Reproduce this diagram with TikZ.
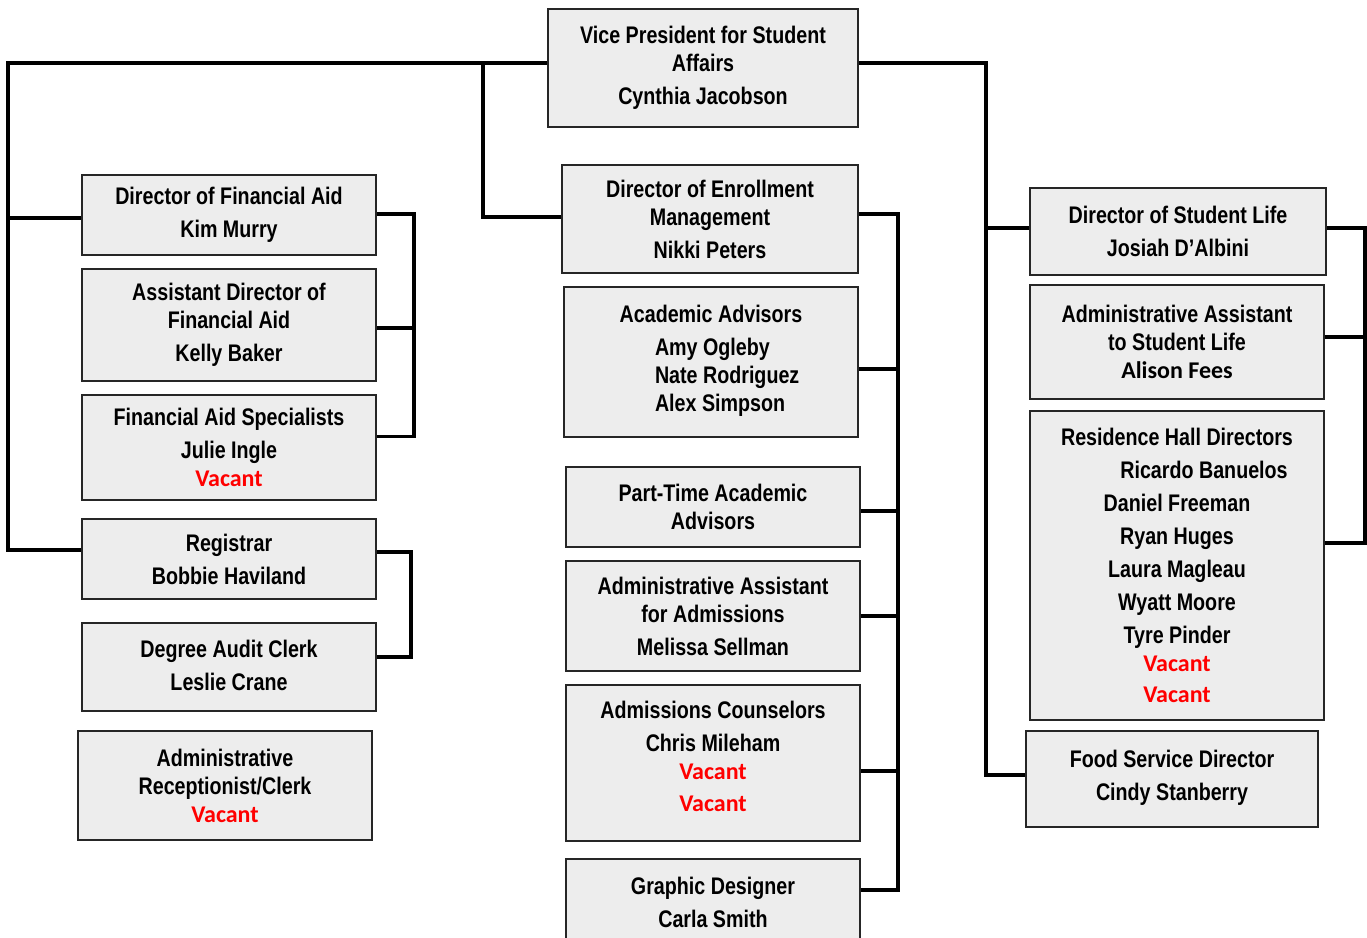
\documentclass[tikz,border=0pt]{standalone}
\usepackage{fontspec}
\setmainfont{Liberation Sans}[FakeStretch=0.82]
\newfontfamily\calfont{Carlito}
\usepackage{tikz}
\usetikzlibrary{positioning}
\newcommand{\vacant}{{\calfont\bfseries\color{red}Vacant}}
\newcommand{\calname}[1]{{\calfont\bfseries #1}}
\newcommand{\advname}[1]{\hspace*{38pt}\makebox[150pt][l]{#1}}

\begin{document}
\begin{tikzpicture}[x=1pt, y=-1pt]

        % Define styles
        \tikzstyle{box} = [rectangle, draw=black!85, line width=2.5pt, fill=black!7, align=center, inner sep=0pt, font=\fontsize{24}{28}\selectfont\bfseries]
        \tikzstyle{line} = [draw, line width=3.5pt]

        \useasboundingbox (0,0) rectangle (1367,937);

        % Place nodes
        \node [box, minimum width=310, minimum height=118] (vp) at (703,68) {Vice President for Student\\Affairs\\[5pt]Cynthia Jacobson};

        % Left column
        \node [box, minimum width=294, minimum height=80] (finaid) at (229,215) {Director of Financial Aid\\[5pt]Kim Murry};
        \node [box, minimum width=294, minimum height=112] (asstfin) at (229,325) {Assistant Director of\\Financial Aid\\[5pt]Kelly Baker};
        \node [box, minimum width=294, minimum height=105] (faspec) at (229,447.5) {Financial Aid Specialists\\[5pt]Julie Ingle\\\vacant};
        \node [box, minimum width=294, minimum height=80] (registrar) at (229,559) {Registrar\\[5pt]Bobbie Haviland};
        \node [box, minimum width=294, minimum height=88] (degaudit) at (229,667) {Degree Audit Clerk\\[5pt]Leslie Crane\\[-24pt]\mbox{}};
        \node [box, minimum width=294, minimum height=109] (recept) at (225,785.5) {Administrative\\Receptionist/Clerk\\\vacant};

        % Center column
        \node [box, minimum width=296, minimum height=108] (enroll) at (710,219) {Director of Enrollment\\Management\\[5pt]Nikki Peters};
        \node [box, minimum width=294, minimum height=150] (acadadv) at (711,362) {Academic Advisors\\[5pt]\advname{Amy Ogleby}\\\advname{Nate Rodriguez}\\\advname{Alex Simpson}\\[-20pt]\mbox{}};
        \node [box, minimum width=294, minimum height=80] (parttime) at (713,507) {Part-Time Academic\\Advisors};
        \node [box, minimum width=294, minimum height=110] (adminadm) at (713,616) {Administrative Assistant\\for Admissions\\[5pt]Melissa Sellman};
        \node [box, minimum width=294, minimum height=156] (admcoun) at (713,763) {Admissions Counselors\\[5pt]Chris Mileham\\\vacant\\[4pt]\vacant\\[-14pt]\mbox{}};
        \node [box, minimum width=294, minimum height=86] (graphic) at (713,902) {Graphic Designer\\[5pt]Carla Smith};

        % Right column
        \node [box, minimum width=296, minimum height=87] (stulife) at (1178,231.5) {Director of Student Life\\[5pt]Josiah D’Albini};
        \node [box, minimum width=294, minimum height=114] (adminsl) at (1177,342) {Administrative Assistant\\to Student Life\\\calname{Alison Fees}};
        \node [box, minimum width=294, minimum height=309] (reshall) at (1177,565.5) {Residence Hall Directors\\[5pt]\hspace*{54pt}Ricardo Banuelos\\[5pt]Daniel Freeman\\[5pt]Ryan Huges\\[5pt]Laura Magleau\\[5pt]Wyatt Moore\\[5pt]Tyre Pinder\\\vacant\\[3pt]\vacant};
        \node [box, minimum width=292, minimum height=96] (food) at (1172,779) {Food Service Director\\[5pt]Cindy Stanberry\\[-20pt]\mbox{}};

        % Bus coordinates
        \coordinate (lbus) at (8,63);
        \coordinate (cbus) at (483,63);
        \coordinate (rbus) at (986,63);
        \coordinate (fabus) at (414,0);
        \coordinate (regbus) at (411,0);
        \coordinate (embus) at (898,0);
        \coordinate (slbus) at (1365,0);

        % Draw edges
        \path [line] ([yshift=5pt]vp.west) -- (lbus) |- ([yshift=9pt]registrar.west);
        \path [line] ([yshift=-3pt]lbus |- finaid.west) -- ([yshift=-3pt]finaid.west);
        \path [line] (cbus) |- ([yshift=2pt]enroll.west);
        \path [line] ([yshift=5pt]vp.east) -- (rbus) |- ([yshift=4pt]food.west);
        \path [line] ([yshift=3.5pt]rbus |- stulife.west) -- ([yshift=3.5pt]stulife.west);

        % Financial aid group
        \path [line] ([yshift=1pt]finaid.east) -| ([yshift=11pt]fabus |- faspec.east) -- ([yshift=11pt]faspec.east);
        \path [line] ([yshift=-3pt]asstfin.east) -- ([yshift=-3pt]asstfin.east -| fabus);

        % Registrar group
        \path [line] ([yshift=7pt]registrar.east) -| ([yshift=10pt]regbus |- degaudit.east) -- ([yshift=10pt]degaudit.east);

        % Enrollment group
        \path [line] ([yshift=5pt]enroll.east) -| ([yshift=12pt]embus |- graphic.east) -- ([yshift=12pt]graphic.east);
        \path [line] ([yshift=-7pt]acadadv.east) -- ([yshift=-7pt]acadadv.east -| embus);
        \path [line] ([yshift=-4pt]parttime.east) -- ([yshift=-4pt]parttime.east -| embus);
        \path [line] (adminadm.east) -- (adminadm.east -| embus);
        \path [line] ([yshift=-8pt]admcoun.east) -- ([yshift=-8pt]admcoun.east -| embus);

        % Student life group
        \path [line] ([yshift=3.5pt]stulife.east) -| ([yshift=22.5pt]slbus |- reshall.east) -- ([yshift=22.5pt]reshall.east);
        \path [line] ([yshift=5pt]adminsl.east) -- ([yshift=5pt]adminsl.east -| slbus);

\end{tikzpicture}
\end{document}
